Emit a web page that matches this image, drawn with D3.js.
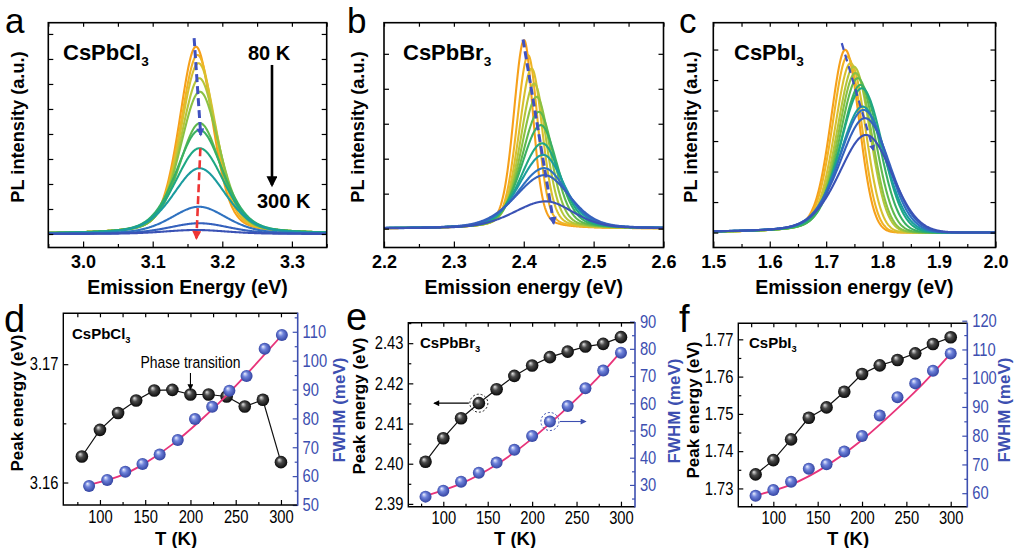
<!DOCTYPE html>
<html><head><meta charset="utf-8">
<script src="https://cdn.jsdelivr.net/npm/d3@7"></script>
<style>
body{margin:0;background:#fff}
svg{display:block}
text{font-family:"Liberation Sans",Arial,sans-serif}
</style>
</head><body>
<svg id="fig" width="1014" height="548"></svg>
<script>
// ---------------- DATA ----------------
const temps = [80,100,120,140,160,180,200,220,240,260,280,300];

// CsPbCl3 (panels a, d)
const clPeak   = [3.1622,3.16445,3.16587,3.16693,3.16778,3.16783,3.16744,3.16744,3.16727,3.16642,3.16699,3.16172];
const clFwhmT  = [88,108,128,147,166,186,205,224,243,262,282,301];
const clFwhm   = [56.6,58.7,61.5,64.2,67.5,72.5,79.8,84.0,89.6,94.7,104.1,108.9];
const clFitT   = [88,120,150,180,210,240,270,301];
const clFitW   = [57,59.8,64.5,71,79,88,98,108.8];
const clHeight = [7.49,7.16,6.83,6.23,5.69,4.43,4.16,3.43,2.63,1.09,0.43,0.16];

// CsPbBr3 (panels b, e)
const brPeak   = [2.4005,2.40635,2.41133,2.41507,2.41855,2.42186,2.42443,2.42652,2.42791,2.42916,2.42983,2.4315];
const brFwhm   = [25.7,27.9,31.2,34.5,38.2,42.9,48.0,53.3,59.0,65.5,72.0,78.6];
const brFitT   = [80,120,160,200,240,270,300];
const brFitW   = [26,30.5,37.5,47,58.5,68,79];
const brHeight = [5.39,4.96,4.58,4.15,3.77,3.34,2.96,2.44,2.11,1.73,1.53,0.78];

// CsPbI3 (panels c, f)
const iPeak   = [1.73376,1.7376,1.74315,1.74895,1.75174,1.75593,1.76068,1.76302,1.76444,1.76624,1.76874,1.77054];
const iFwhm   = [59.1,61.1,64.0,68.5,70.1,74.5,79.9,87.0,93.4,98.2,102.6,108.6];
const iFitT   = [80,120,160,200,240,270,300];
const iFitW   = [59.2,63,69.5,78.5,89.5,98.5,108.6];
const iHeight = [5.99,5.77,5.55,5.44,5.23,5.06,4.84,4.73,4.13,4.02,3.75,3.20];

// tick labels
const tickA = [3.0,3.1,3.2,3.3];
const tickB = [2.2,2.3,2.4,2.5,2.6];
const tickC = [1.5,1.6,1.7,1.8,1.9,2.0];
const tickT = [100,150,200,250,300];

// ---------------- STYLE ----------------
const specColors = ["#f6a01a","#f0b324","#d8c02f","#b5c53a","#8bc143","#5fb94e","#3ab063","#1fa883","#1b9c9f","#2f72c0","#3561bd","#3a52b5"];
const BLUE = "#3d4fb0";
const NARROW_SCALE = "scale(0.82,1)";

const svg = d3.select("#fig");
const defs = svg.append("defs");

function radial(id, c0, c1, c2){
  const g = defs.append("radialGradient").attr("id",id)
    .attr("cx","50%").attr("cy","50%").attr("r","55%").attr("fx","35%").attr("fy","30%");
  g.append("stop").attr("offset","0%").attr("stop-color",c0);
  g.append("stop").attr("offset","40%").attr("stop-color",c1);
  g.append("stop").attr("offset","100%").attr("stop-color",c2);
}
radial("gBlack","#e6e6e6","#4a4a4a","#000");
radial("gBlue","#eef1ff","#6e82da","#2b3b9a");

function marker(id,color,len,wid){
  defs.append("marker").attr("id",id).attr("viewBox","0 0 10 10")
    .attr("refX",8).attr("refY",5).attr("markerWidth",len).attr("markerHeight",wid)
    .attr("markerUnits","userSpaceOnUse").attr("orient","auto")
    .append("path").attr("d","M0,0L10,5L0,10z").attr("fill",color);
}
marker("arBlue","#3f51c0",15,8);
marker("arRed","#ee3535",12,9);
marker("arBlack","#000",16,11);
marker("arBlueS","#3f51c0",12,6);
marker("arBlackS","#000",9,6);
marker("arBlueE",BLUE,9,6);

function chem(g, x, y, base, size, weight){
  const t = g.append("text").attr("x",x).attr("y",y).attr("font-size",size).attr("font-weight",weight||"bold");
  t.append("tspan").text(base);
  t.append("tspan").attr("font-size",size*0.62).attr("dy",size*0.28).text("3");
  return t;
}

function styleAxis(sel, color){
  sel.select(".domain").remove();
  sel.selectAll(".tick line").attr("stroke",color||"#000").attr("stroke-width",1.2);
  sel.selectAll(".tick text").attr("fill",color||"#000");
}

function profile(E, E0, H, F, s){
  const d = E - E0;
  const hw = F/2*(d<0?s.kL:s.kR);
  const eta = d<0?s.etaL:s.etaR;
  const u = d/hw;
  return H*((1-eta)*Math.exp(-Math.LN2*u*u) + eta/(1+u*u));
}

// ---------------- TOP PANELS ----------------
const topPanels = [
  {letter:"a", lx:5, chem:"CsPbCl", chemX:63, L:48.3, R:326.7, T:22.7, B:247.5, xd:[2.95,3.35], yd:[-0.54,8.45],
   ymax:8, major:tickA, minorStep:0.05, peaks:clPeak, fwhm:clFwhm, heights:clHeight, wScale:1.0,
   shape:{kL:1,kR:1,etaL:0.35,etaR:0.35}, title:"Emission Energy (eV)", ytx:24,
   arrows:[{from:[3.1595,7.83],to:[3.169,3.96],color:"#3f51c0",dash:"8,4",m:"arBlue",w:3},
           {from:[3.1685,3.43],to:[3.1628,-0.17],color:"#ee3535",dash:"8,4",m:"arRed",w:2.6},
           {from:[3.2714,6.76],to:[3.2714,1.96],color:"#000",dash:null,m:"arBlack",w:2.6}]},
  {letter:"b", lx:347, chem:"CsPbBr", chemX:403, L:384, R:663.5, T:22.7, B:247.5, xd:[2.2,2.6], yd:[-0.54,5.89],
   ymax:5, major:tickB, minorStep:0.05, peaks:brPeak, fwhm:brFwhm, heights:brHeight, wScale:1.25,
   shape:{kL:1.1,kR:0.95,etaL:0.3,etaR:0.3}, title:"Emission energy (eV)", ytx:364,
   arrows:[{from:[2.399,5.41],to:[2.4429,0.15],color:"#3f51c0",dash:"8,4",m:"arBlue",w:3}]},
  {letter:"c", lx:679, chem:"CsPbI", chemX:734, L:713.3, R:995.5, T:22.7, B:247.5, xd:[1.5,2.0], yd:[-0.49,6.88],
   ymax:6, major:tickC, minorStep:0.05, peaks:iPeak, fwhm:iFwhm, heights:iHeight, wScale:1.1,
   shape:{kL:0.95,kR:0.9,etaL:0.3,etaR:0.0}, title:"Emission energy (eV)", ytx:697,
   arrows:[{from:[1.7276,6.21],to:[1.7836,2.71],color:"#3f51c0",dash:"7,5",m:"arBlueS",w:2.2}]}
];

topPanels.forEach((p,pi)=>{
  const g = svg.append("g");
  const x = d3.scaleLinear().domain(p.xd).range([p.L,p.R]);
  const y = d3.scaleLinear().domain(p.yd).range([p.B,p.T]);
  const clipId = "clipTop"+pi;
  defs.append("clipPath").attr("id",clipId).append("rect")
    .attr("x",p.L).attr("y",p.T).attr("width",p.R-p.L).attr("height",p.B-p.T);

  // spectra
  const Es = d3.range(p.xd[0], p.xd[1]+1e-9, 0.0008);
  const line = d3.line().x(d=>x(d[0])).y(d=>y(d[1]));
  const sg = g.append("g").attr("clip-path",`url(#${clipId})`);
  p.peaks.forEach((E0,i)=>{
    const F = p.fwhm[i]/1000*p.wScale;
    const pts = Es.map(E=>[E, profile(E,E0,p.heights[i],F,p.shape)]);
    sg.append("path").attr("d",line(pts)).attr("fill","none")
      .attr("stroke",specColors[i]).attr("stroke-width",2.1).attr("stroke-linejoin","round");
  });

  // arrows
  p.arrows.forEach(a=>{
    const l = g.append("line").attr("x1",x(a.from[0])).attr("y1",y(a.from[1]))
      .attr("x2",x(a.to[0])).attr("y2",y(a.to[1])).attr("stroke",a.color).attr("stroke-width",a.w)
      .attr("marker-end",`url(#${a.m})`);
    if(a.dash) l.attr("stroke-dasharray",a.dash);
  });

  // axes
  const minors = d3.range(p.xd[0], p.xd[1]+1e-9, p.minorStep).filter(v=>!p.major.some(m=>Math.abs(m-v)<1e-6));
  const fmt = d3.format(".1f");
  g.append("g").attr("transform",`translate(0,${p.B})`)
    .call(d3.axisBottom(x).tickValues(p.major).tickSizeInner(-6).tickSizeOuter(0).tickPadding(8).tickFormat(fmt))
    .call(s=>{styleAxis(s); s.selectAll(".tick text").attr("font-size",18).attr("font-weight","bold")
      .attr("font-family","'Liberation Sans',Arial,sans-serif");});
  g.append("g").attr("transform",`translate(0,${p.B})`)
    .call(d3.axisBottom(x).tickValues(minors).tickSizeInner(-3.5).tickSizeOuter(0).tickFormat(""))
    .call(s=>styleAxis(s));
  g.append("g").attr("transform",`translate(0,${p.T})`)
    .call(d3.axisTop(x).tickValues(p.major.concat(minors)).tickSizeInner(-4).tickSizeOuter(0).tickFormat(""))
    .call(s=>styleAxis(s));
  const yt = d3.range(0,p.ymax+1);
  g.append("g").attr("transform",`translate(${p.L},0)`)
    .call(d3.axisLeft(y).tickValues(yt).tickSizeInner(-5).tickSizeOuter(0).tickFormat(""))
    .call(s=>styleAxis(s));
  g.append("g").attr("transform",`translate(${p.R},0)`)
    .call(d3.axisRight(y).tickValues(yt).tickSizeInner(-5).tickSizeOuter(0).tickFormat(""))
    .call(s=>styleAxis(s));

  g.append("rect").attr("x",p.L).attr("y",p.T).attr("width",p.R-p.L).attr("height",p.B-p.T)
    .attr("fill","none").attr("stroke","#000").attr("stroke-width",1.6);

  // texts
  g.append("text").attr("x",(p.L+p.R)/2).attr("y",294).attr("text-anchor","middle")
    .attr("font-size",19.5).attr("font-weight","bold").text(p.title);
  g.append("text").attr("transform",`translate(${p.ytx},127) rotate(-90)`).attr("text-anchor","middle")
    .attr("font-size",18.2).attr("font-weight","bold").text("PL intensity (a.u.)");
  chem(g, p.chemX, 60, p.chem, 22);
  g.append("text").attr("x",p.lx).attr("y",32.5).attr("font-size",35).text(p.letter);
});

// panel a temperature labels
svg.append("text").attr("x",248).attr("y",60).attr("font-size",20).attr("font-weight","bold").text("80 K");
svg.append("text").attr("x",257).attr("y",208).attr("font-size",20).attr("font-weight","bold").text("300 K");

// ---------------- BOTTOM PANELS ----------------
const botPanels = [
  {letter:"d", lx:4, lxy:332, chem:"CsPbCl", chemX:72, chemY:339, L:63.3, R:297.7, T:313.3, B:505,
   xd:[59.5,318.5], yLd:[3.1581,3.1743], yLmaj:[3.16,3.17], yLstep:0.005, yRd:[50,116.4], yRmaj:[50,60,70,80,90,100,110],
   peak:clPeak, fT:clFwhmT, fw:clFwhm, fitT:clFitT, fitW:clFitW, ylx:23, yly:403, yrx:345, yry:410, tx:176},
  {letter:"e", lx:346, lxy:330, chem:"CsPbBr", chemX:420, chemY:348, L:408.3, R:635, T:322.7, B:506.7,
   xd:[60.6,315.8], yLd:[2.3893,2.4351], yLmaj:[2.39,2.40,2.41,2.42,2.43], yLstep:0.005, yRd:[22,89.6], yRmaj:[30,40,50,60,70,80,90],
   peak:brPeak, fT:temps, fw:brFwhm, fitT:brFitT, fitW:brFitW, ylx:365, yly:406, yrx:680, yry:411, tx:515},
  {letter:"f", lx:679, lxy:332, chem:"CsPbI", chemX:749, chemY:348, L:738.3, R:967.3, T:323.3, B:506.7,
   xd:[60.5,318.7], yLd:[1.7251,1.7743], yLmaj:[1.73,1.74,1.75,1.76,1.77], yLstep:0.005, yRd:[55.3,119.1], yRmaj:[60,70,80,90,100,110,120],
   peak:iPeak, fT:temps, fw:iFwhm, fitT:iFitT, fitW:iFitW, ylx:699, yly:410, yrx:1009.5, yry:410, tx:848}
];

botPanels.forEach((p,pi)=>{
  const g = svg.append("g");
  const x = d3.scaleLinear().domain(p.xd).range([p.L,p.R]);
  const yL = d3.scaleLinear().domain(p.yLd).range([p.B,p.T]);
  const yR = d3.scaleLinear().domain(p.yRd).range([p.B,p.T]);

  // axes
  const xMinor = [75,125,175,225,275];
  g.append("g").attr("transform",`translate(0,${p.B})`)
    .call(d3.axisBottom(x).tickValues(tickT).tickSizeInner(-5).tickSizeOuter(0).tickPadding(5).tickFormat(d3.format("d")))
    .call(s=>{styleAxis(s); s.selectAll(".tick text").attr("font-size",18).attr("transform",NARROW_SCALE);});
  g.append("g").attr("transform",`translate(0,${p.B})`)
    .call(d3.axisBottom(x).tickValues(xMinor).tickSizeInner(-3).tickSizeOuter(0).tickFormat("")).call(s=>styleAxis(s));
  g.append("g").attr("transform",`translate(0,${p.T})`)
    .call(d3.axisTop(x).tickValues(tickT.concat(xMinor)).tickSizeInner(-4).tickSizeOuter(0).tickFormat("")).call(s=>styleAxis(s));

  const lMinor = p.yLmaj.map(v=>v+p.yLstep).concat([p.yLmaj[0]-p.yLstep]).filter(v=>v>p.yLd[0]&&v<p.yLd[1]);
  g.append("g").attr("transform",`translate(${p.L},0)`)
    .call(d3.axisLeft(yL).tickValues(p.yLmaj).tickSizeInner(-5).tickSizeOuter(0).tickPadding(6).tickFormat(d3.format(".2f")))
    .call(s=>{styleAxis(s); s.selectAll(".tick text").attr("font-size",18).attr("transform",NARROW_SCALE);});
  g.append("g").attr("transform",`translate(${p.L},0)`)
    .call(d3.axisLeft(yL).tickValues(lMinor).tickSizeInner(-3).tickSizeOuter(0).tickFormat("")).call(s=>styleAxis(s));

  const rMinor = p.yRmaj.map(v=>v+5).concat([p.yRmaj[0]-5]).filter(v=>v>p.yRd[0]&&v<p.yRd[1]);
  g.append("g").attr("transform",`translate(${p.R},0)`)
    .call(d3.axisRight(yR).tickValues(p.yRmaj).tickSizeInner(-5).tickSizeOuter(0).tickPadding(6).tickFormat(d3.format("d")))
    .call(s=>{styleAxis(s,BLUE); s.selectAll(".tick text").attr("font-size",18).attr("transform",NARROW_SCALE);});
  g.append("g").attr("transform",`translate(${p.R},0)`)
    .call(d3.axisRight(yR).tickValues(rMinor).tickSizeInner(-3).tickSizeOuter(0).tickFormat("")).call(s=>styleAxis(s,BLUE));

  // frame
  g.append("path").attr("d",`M${p.R},${p.T}H${p.L}V${p.B}H${p.R}`).attr("fill","none")
    .attr("stroke","#000").attr("stroke-width",1.4);
  g.append("line").attr("x1",p.R).attr("x2",p.R).attr("y1",p.T-0.7).attr("y2",p.B+0.7)
    .attr("stroke",BLUE).attr("stroke-width",1.6);

  // black series
  const bl = d3.line().x((d,i)=>x(temps[i])).y(d=>yL(d));
  g.append("path").attr("d",bl(p.peak)).attr("fill","none").attr("stroke","#111").attr("stroke-width",1.2);
  g.selectAll(".bk").data(p.peak).join("circle").attr("cx",(d,i)=>x(temps[i])).attr("cy",d=>yL(d))
    .attr("r",6.3).attr("fill","url(#gBlack)");

  // fit line
  const fl = d3.line().x((d,i)=>x(p.fitT[i])).y(d=>yR(d)).curve(d3.curveNatural);
  g.append("path").attr("d",fl(p.fitW)).attr("fill","none").attr("stroke","#e8347a").attr("stroke-width",1.8);

  // blue series
  g.selectAll(".bu").data(p.fw).join("circle").attr("cx",(d,i)=>x(p.fT[i])).attr("cy",d=>yR(d))
    .attr("r",6).attr("fill","url(#gBlue)");

  // labels
  g.append("text").attr("transform",`translate(${p.ylx},${p.yly}) rotate(-90)`).attr("text-anchor","middle")
    .attr("font-size",17).attr("font-weight","bold").text("Peak energy (eV)");
  g.append("text").attr("transform",`translate(${p.yrx},${p.yry}) rotate(-90)`).attr("text-anchor","middle")
    .attr("font-size",17).attr("font-weight","bold").attr("fill",BLUE).text("FWHM (meV)");
  g.append("text").attr("x",p.tx).attr("y",545).attr("text-anchor","middle")
    .attr("font-size",18.5).attr("font-weight","bold").text("T (K)");
  chem(g, p.chemX, p.chemY, p.chem, 15);
  g.append("text").attr("x",p.lx).attr("y",p.lxy).attr("font-size",38).text(p.letter);

  // panel-specific annotations
  if(pi===0){
    g.append("text").attr("transform",`translate(${x(200)},368) ${NARROW_SCALE}`).attr("text-anchor","middle")
      .attr("font-size",17).text("Phase transition");
    g.append("line").attr("x1",x(200)).attr("x2",x(200)).attr("y1",373).attr("y2",389)
      .attr("stroke","#000").attr("stroke-width",1.1).attr("marker-end","url(#arBlackS)");
  }
  if(pi===1){
    const cxB = x(temps[3]), cyB = yL(p.peak[3]);
    g.append("circle").attr("cx",cxB).attr("cy",cyB).attr("r",9).attr("fill","none")
      .attr("stroke","#222").attr("stroke-width",1).attr("stroke-dasharray","2,2");
    g.append("line").attr("x1",cxB-10).attr("y1",cyB).attr("x2",x(90)).attr("y2",cyB)
      .attr("stroke","#000").attr("stroke-width",1.1).attr("marker-end","url(#arBlackS)");
    const cxU = x(temps[7]), cyU = yR(p.fw[7]);
    g.append("circle").attr("cx",cxU).attr("cy",cyU).attr("r",9).attr("fill","none")
      .attr("stroke",BLUE).attr("stroke-width",1).attr("stroke-dasharray","2,2");
    g.append("line").attr("x1",cxU+10).attr("y1",cyU).attr("x2",x(260)).attr("y2",cyU)
      .attr("stroke",BLUE).attr("stroke-width",1.1).attr("marker-end","url(#arBlueE)");
  }
});
</script>
</body></html>
